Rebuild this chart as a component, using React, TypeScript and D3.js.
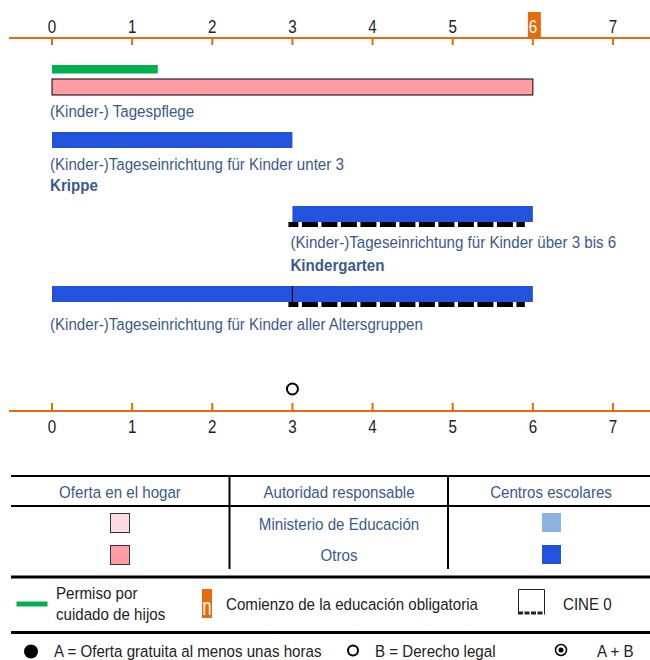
import React from "react";
import * as d3 from "d3";

const ageTicks = [0, 1, 2, 3, 4, 5, 6, 7];
const compulsoryAge = 6;

const leaveStart = 0;
const leaveEnd = 1.32;

const barStarts = [0, 0, 3, 0];
const barEnds = [6, 3, 6, 6];
const barKinds = ["home", "school", "school", "school"];
const barLabels = [
  "(Kinder-) Tagespflege",
  "(Kinder-)Tageseinrichtung für Kinder unter 3",
  "(Kinder-)Tageseinrichtung für Kinder über 3 bis 6",
  "(Kinder-)Tageseinrichtung für Kinder aller Altersgruppen",
];
const barSubLabels = ["", "Krippe", "Kindergarten", ""];
const barDividers = [null, null, null, 3];

const cineStarts = [2.95, 2.95];
const cineEnds = [5.9, 5.9];
const cineRows = [2, 3];

const legalRightAge = 3;

const FONT = "'Liberation Sans', Arial, sans-serif";
const TXT = "#3b5a8c";
const ORANGE = "#E46C0A";
const BLUE = "#2352DC";
const LIGHTBLUE = "#8DB3E2";
const PINK = "#FF9CA4";
const LIGHTPINK = "#FBDDE0";
const GREEN = "#00B050";

type TProps = {
  x: number;
  y: number;
  size?: number;
  sx?: number;
  anchor?: string;
  fill?: string;
  bold?: boolean;
  children: React.ReactNode;
};

function T({ x, y, size = 16.8, sx = 0.9, anchor = "start", fill = "#222", bold = false, children }: TProps) {
  return (
    <text
      transform={`translate(${x},${y}) scale(${sx},1)`}
      textAnchor={anchor}
      fontSize={size}
      fontWeight={bold ? "bold" : "normal"}
      fill={fill}
    >
      {children}
    </text>
  );
}

export default function App() {
  const x = d3.scaleLinear().domain([0, 7]).range([52, 613]);
  const barY = [79, 132, 206, 286];
  const barH = 16;
  const labelY = [116.5, 169.5, 247.5, 329.5];
  const subLabelY = [0, 191, 271, 0];

  return (
    <svg width={650} height={660} style={{ position: "absolute", left: 0, top: 0, fontFamily: FONT }}>
      <rect width={650} height={660} fill="#fff" />
      {/* top axis */}
      <line x1={9} x2={650} y1={38} y2={38} stroke={ORANGE} strokeWidth={2} />
      {ageTicks.map((t) => (
        <g key={"tt" + t}>
          <line x1={x(t)} x2={x(t)} y1={38} y2={45} stroke={ORANGE} strokeWidth={2} />
          {t === compulsoryAge && <rect x={x(t) - 5} y={12} width={13} height={25} fill={ORANGE} />}
          <T x={x(t)} y={33} size={18.5} sx={0.82} anchor="middle" fill={t === compulsoryAge ? "#fff" : "#222"}>
            {t}
          </T>
        </g>
      ))}
      {/* leave */}
      <rect x={x(leaveStart)} y={65} width={x(leaveEnd) - x(leaveStart)} height={8.5} fill={GREEN} />
      {/* bars */}
      {barStarts.map((s, i) => (
        <g key={"b" + i}>
          <rect
            x={x(s)}
            y={barY[i]}
            width={x(barEnds[i]) - x(s)}
            height={barH}
            fill={barKinds[i] === "home" ? PINK : BLUE}
            stroke={barKinds[i] === "home" ? "#000" : "none"}
            strokeWidth={1}
          />
          {barDividers[i] !== null && (
            <line x1={x(barDividers[i] as number)} x2={x(barDividers[i] as number)} y1={barY[i]} y2={barY[i] + barH} stroke="#000" strokeWidth={1.2} />
          )}
          <T x={x(s) - 2} y={labelY[i]} fill={TXT}>
            {barLabels[i]}
          </T>
          {barSubLabels[i] && (
            <T x={x(s) - 2} y={subLabelY[i]} bold fill={TXT}>
              {barSubLabels[i]}
            </T>
          )}
        </g>
      ))}
      {/* CINE 0 dashed */}
      {cineRows.map((r, i) => (
        <line
          key={"c" + i}
          x1={x(cineStarts[i])}
          x2={x(cineEnds[i])}
          y1={barY[r] + barH + 2.5}
          y2={barY[r] + barH + 2.5}
          stroke="#000"
          strokeWidth={5}
          strokeDasharray="16 3.5"
          strokeDashoffset={6}
        />
      ))}
      {/* legal right */}
      <circle cx={x(legalRightAge)} cy={389} r={5.5} fill="none" stroke="#000" strokeWidth={2} />
      {/* bottom axis */}
      <line x1={9} x2={650} y1={411} y2={411} stroke={ORANGE} strokeWidth={2} />
      {ageTicks.map((t) => (
        <g key={"bt" + t}>
          <line x1={x(t)} x2={x(t)} y1={403} y2={411} stroke={ORANGE} strokeWidth={2} />
          <T x={x(t)} y={433} size={18.5} sx={0.82} anchor="middle" fill="#222">
            {t}
          </T>
        </g>
      ))}
      {/* legend table */}
      <line x1={11} x2={650} y1={476} y2={476} stroke="#000" strokeWidth={2} />
      <line x1={11} x2={650} y1={506} y2={506} stroke="#000" strokeWidth={2} />
      <line x1={229.5} x2={229.5} y1={476} y2={569} stroke="#000" strokeWidth={2} />
      <line x1={448} x2={448} y1={476} y2={569} stroke="#000" strokeWidth={2} />
      <T x={120} y={497.5} anchor="middle" fill={TXT}>Oferta en el hogar</T>
      <T x={339} y={497.5} anchor="middle" fill={TXT}>Autoridad responsable</T>
      <T x={551} y={497.5} anchor="middle" fill={TXT}>Centros escolares</T>
      <T x={339} y={529.5} anchor="middle" fill={TXT}>Ministerio de Educación</T>
      <T x={339} y={560.5} anchor="middle" fill={TXT}>Otros</T>
      <rect x={110.5} y={513.5} width={19} height={19} fill={LIGHTPINK} stroke="#333" strokeWidth={1} />
      <rect x={110.5} y={545.5} width={19} height={19} fill={PINK} stroke="#333" strokeWidth={1} />
      <rect x={542} y={513} width={19} height={19} fill={LIGHTBLUE} />
      <rect x={542} y={545} width={19} height={19} fill={BLUE} />
      <line x1={11} x2={650} y1={577} y2={577} stroke="#000" strokeWidth={3} />
      {/* second legend row */}
      <line x1={16.5} x2={47.5} y1={604} y2={604} stroke={GREEN} strokeWidth={5} />
      <T x={56} y={598.5}>Permiso por</T>
      <T x={56} y={619.5}>cuidado de hijos</T>
      <rect x={202} y={589} width={10} height={29} fill={ORANGE} />
      <T x={207} y={615} size={23} sx={0.7} anchor="middle" fill="#fff">n</T>
      <T x={226} y={609.5}>Comienzo de la educación obligatoria</T>
      <path d="M518.5,614 V589.5 H544.5 V614" fill="none" stroke="#222" strokeWidth={1} />
      <line x1={518} x2={545} y1={613} y2={613} stroke="#222" strokeWidth={3} strokeDasharray="5 1.5" />
      <T x={563} y={609.5}>CINE 0</T>
      <line x1={11} x2={650} y1={632.5} y2={632.5} stroke="#000" strokeWidth={3} />
      {/* bottom legend */}
      <circle cx={31} cy={651.5} r={7} fill="#000" />
      <T x={54} y={657}>A = Oferta gratuita al menos unas horas</T>
      <circle cx={353} cy={650.5} r={5} fill="none" stroke="#000" strokeWidth={2} />
      <T x={375} y={657}>B = Derecho legal</T>
      <circle cx={561} cy={650} r={5.5} fill="none" stroke="#000" strokeWidth={1.5} />
      <circle cx={561} cy={650} r={2.5} fill="#000" />
      <T x={597} y={657}>A + B</T>
    </svg>
  );
}
